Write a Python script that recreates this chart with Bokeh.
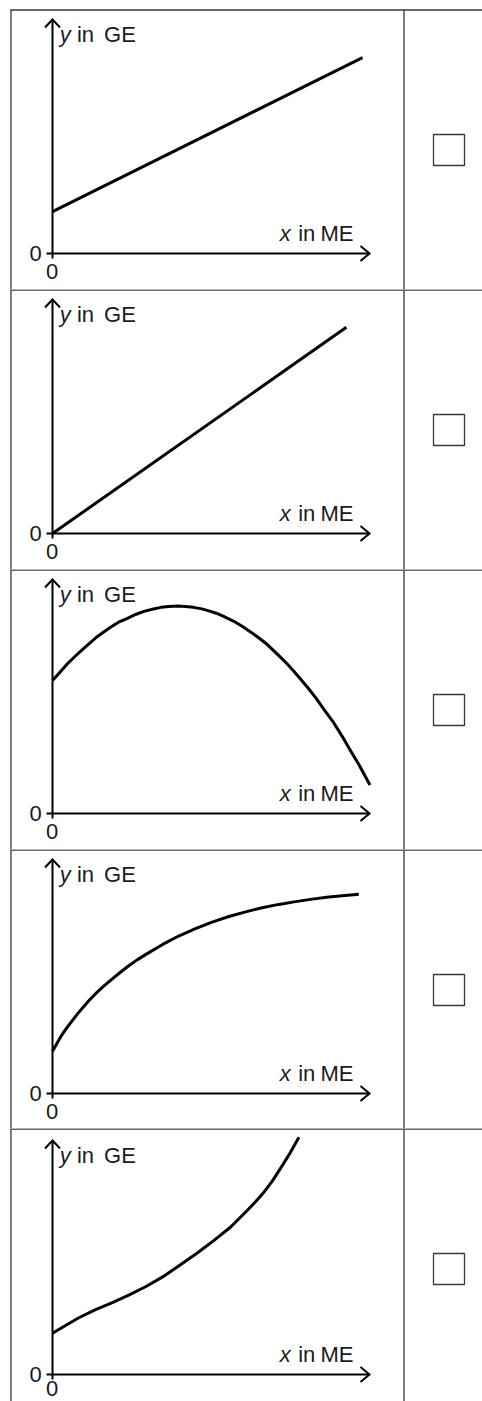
from bokeh.plotting import figure
from bokeh.layouts import column
from bokeh.models import Range1d
from bokeh.core.properties import value
from bokeh.embed import file_html
from bokeh.resources import INLINE

# ---------------- data (x in ME, y in GE) ----------------
x_row1 = [0.0, 10.0]
y_row1 = [1.35, 6.32]

x_row2 = [0.0, 9.48]
y_row2 = [0.0, 6.65]

x_row3 = [0.0, 0.24, 0.48, 0.74, 1.0, 1.45, 1.87, 2.13, 2.4, 2.68, 2.95, 3.22,
          3.5, 3.75, 4.02, 4.28, 4.55, 4.82, 5.1, 5.28, 5.47, 5.85, 6.13, 6.4,
          6.65, 6.93, 7.2, 7.45, 7.75, 8.0, 8.25, 8.5, 8.75, 9.07, 9.35, 9.6,
          9.9, 10.24]
y_row3 = [4.29, 4.56, 4.83, 5.08, 5.32, 5.71, 6.01, 6.17, 6.29, 6.42, 6.52, 6.59,
          6.65, 6.68, 6.69, 6.68, 6.65, 6.60, 6.52, 6.46, 6.38, 6.20, 6.03, 5.85,
          5.67, 5.45, 5.19, 4.95, 4.63, 4.34, 4.04, 3.72, 3.37, 2.93, 2.48, 2.05,
          1.55, 0.92]

x_row4 = [0.0, 0.15, 0.31, 0.47, 0.64, 0.80, 0.96, 1.17, 1.39, 1.66, 1.93, 2.2,
          2.46, 2.73, 3.0, 3.54, 4.07, 4.61, 5.15, 5.69, 6.23, 6.76, 7.30, 7.84,
          8.38, 8.91, 9.88]
y_row4 = [1.36, 1.63, 1.90, 2.13, 2.35, 2.56, 2.75, 2.99, 3.22, 3.47, 3.70, 3.92,
          4.12, 4.31, 4.48, 4.80, 5.08, 5.32, 5.53, 5.71, 5.86, 5.99, 6.10, 6.19,
          6.27, 6.34, 6.43]

x_row5 = [0.0, 0.42, 0.85, 1.39, 1.93, 2.46, 3.0, 3.54, 4.07, 4.67, 5.20, 5.74,
          6.28, 6.55, 6.82, 7.09, 7.35, 7.65, 7.95]
y_row5 = [1.33, 1.58, 1.83, 2.09, 2.32, 2.56, 2.83, 3.14, 3.50, 3.92, 4.32, 4.75,
          5.29, 5.57, 5.88, 6.24, 6.64, 7.12, 7.65]

y_label = ["y", "in", "GE"]
x_label = ["x", "in", "ME"]
tick_labels = ["0", "0"]

curves = [(x_row1, y_row1), (x_row2, y_row2), (x_row3, y_row3),
          (x_row4, y_row4), (x_row5, y_row5)]

# ---------------- layout (page pixels) ----------------
PX = 31.0            # pixels per data unit
ORIGIN_X = 52.0      # page x of the y axis
PAGE_W = 482
PAGE_H = 1401
FIG_TOPS = [0, 289, 569, 849, 1128]
FIG_H = [289, 280, 280, 279, 273]
ROW_TOPS = [9, 289, 569, 849, 1128]
AXIS_Y = [253, 533, 813, 1093, 1374]
TEXT_SHIFT = 8.5     # renderer places the alphabetic baseline this much lower

FONT = value("Liberation Sans")
FSIZE = value("22px")
TXT = "#1a1a1a"
BORDER = "#383838"


def make_row(k, xs, ys):
    top, h, axis, rtop = FIG_TOPS[k], FIG_H[k], AXIS_Y[k], ROW_TOPS[k]

    def X(px):
        return (px - ORIGIN_X) / PX

    def Y(py):
        return (axis - py) / PX

    def TY(py):  # baseline of a text
        return Y(py - TEXT_SHIFT)

    p = figure(width=PAGE_W, height=h,
               x_range=Range1d(X(0), X(PAGE_W)),
               y_range=Range1d(Y(top + h), Y(top)),
               x_axis_type=None, y_axis_type=None,
               toolbar_location=None, output_backend="svg",
               min_border=0, outline_line_color=None,
               background_fill_color="white", border_fill_color="white")

    # table lines (top rule of the row, left border, column divider)
    p.segment(x0=[X(10), X(10.5), X(403.5)],
              y0=[Y(rtop + 0.5), Y(rtop), Y(rtop)],
              x1=[X(PAGE_W), X(10.5), X(403.5)],
              y1=[Y(rtop + 0.5), Y(top + h), Y(top + h)],
              line_color=BORDER, line_width=1.3)

    # axes with ticks at the origin
    ax = dict(line_color="black", line_width=2)
    p.segment(x0=[X(46), 0], y0=[0, Y(axis + 5)],
              x1=[X(369), 0], y1=[0, Y(axis - 234)], **ax)
    p.multi_line(xs=[[X(360), X(369), X(360)], [X(44.5), 0, X(59.5)]],
                 ys=[[Y(axis - 7.5), 0, Y(axis + 7.5)],
                     [Y(axis - 226), Y(axis - 234), Y(axis - 226)]],
                 line_join="miter", **ax)

    # curve
    p.line(xs, ys, line_color="black", line_width=3, line_join="round")

    # axis labels
    common = dict(text_font=FONT, text_font_size=FSIZE, text_color=TXT,
                  text_align="center", text_baseline="alphabetic")
    p.text(x=[X(64.8), X(284.8)], y=[TY(axis - 210.5), TY(axis - 12)],
           text=[y_label[0], x_label[0]], text_font_style="italic", **common)
    p.text(x=[X(85.0), X(119.5), X(306.2), X(336.5)],
           y=[TY(axis - 210.5)] * 2 + [TY(axis - 12)] * 2,
           text=[y_label[1], y_label[2], x_label[1], x_label[2]], **common)
    bottom_zero = min(axis + 26.5, PAGE_H - 5)   # keep it inside the page
    p.text(x=[X(35), X(51.7)], y=[TY(axis + 8), TY(bottom_zero)],
           text=tick_labels, **common)

    # check box
    p.scatter(x=[X(448.5)], y=[Y(rtop + 140.5)], marker="square", size=31,
              fill_color=None, line_color=BORDER, line_width=1.3)
    return p


figs = [make_row(k, xs, ys) for k, (xs, ys) in enumerate(curves)]
layout = column(*figs, spacing=0)

open("out.html", "w").write(file_html(layout, INLINE))
